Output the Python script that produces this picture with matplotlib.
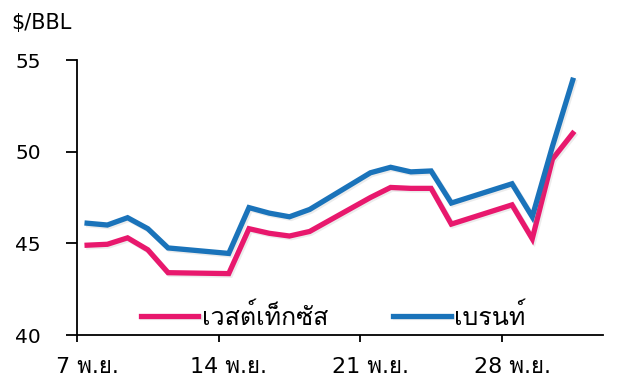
import numpy as np
import matplotlib
matplotlib.use("Agg")
import matplotlib.pyplot as plt
import matplotlib.patheffects as pe
from matplotlib import font_manager, ft2font

# trading days, counted from 7 Nov
days = [0, 1, 2, 3, 4, 7, 8, 9, 10, 11, 14, 15, 16, 17, 18, 21, 22, 23, 24]
wti = [44.9, 44.95, 45.3, 44.65, 43.4, 43.35, 45.8, 45.55, 45.4, 45.65,
       47.5, 48.05, 48.0, 48.0, 46.05, 47.1, 45.25, 49.6, 51.0]
brent = [46.1, 46.0, 46.4, 45.8, 44.75, 44.45, 46.95, 46.65, 46.45, 46.85,
         48.85, 49.15, 48.9, 48.95, 47.2, 48.25, 46.45, 50.3, 53.9]

tick_days = [0, 7, 14, 21]
tick_labels = ["7 พ.ย.", "14 พ.ย.", "21 พ.ย.", "28 พ.ย."]
y_ticks = [40, 45, 50, 55]

# find an installed font that can draw Thai
thai_font = None
for f in font_manager.fontManager.ttflist:
    try:
        if 0x0E27 in ft2font.FT2Font(f.fname).get_charmap():
            thai_font = f.name
            break
    except Exception:
        pass

fams = ["DejaVu Sans"] + ([thai_font] if thai_font else [])
plt.rcParams["font.family"] = fams

fig = plt.figure(figsize=(6.4, 3.9), dpi=100)
ax = fig.add_axes([0.1203, 0.141, 0.822, 0.705])

shadow = [pe.SimpleLineShadow(offset=(1.2, -1.2), shadow_color="gray", alpha=0.15),
          pe.Normal()]
x = np.array(days) + 0.5
ax.plot(x, wti, color="#E8186D", lw=3.8, solid_joinstyle="miter",
        label="เวสต์เท็กซัส", path_effects=shadow)
ax.plot(x, brent, color="#1A73BA", lw=3.8, solid_joinstyle="miter",
        label="เบรนท์", path_effects=shadow)

ax.set_xlim(0, 26)
ax.set_ylim(40, 55)
for s in ["top", "right"]:
    ax.spines[s].set_visible(False)
for s in ["left", "bottom"]:
    ax.spines[s].set_linewidth(1.3)

ax.set_yticks(y_ticks)
ax.tick_params(axis="y", length=8, width=1.3, pad=18, labelsize=14.5)
ax.set_xticks(tick_days)
ax.set_xticklabels([])
ax.tick_params(axis="x", which="major", length=5, width=1.3)
ax.set_xticks([d + 0.5 for d in tick_days], minor=True)
ax.set_xticklabels(tick_labels, minor=True)
ax.tick_params(axis="x", which="minor", length=0, pad=16, labelsize=16)

fig.text(0.017, 0.941, "$/BBL", fontsize=15, va="center")

ax.legend(loc="lower center", bbox_to_anchor=(0.487, -0.062), ncol=2,
          frameon=False, fontsize=18, handlelength=2.3, handletextpad=0.15,
          columnspacing=2.6)

fig.savefig("out.png", dpi=100)
